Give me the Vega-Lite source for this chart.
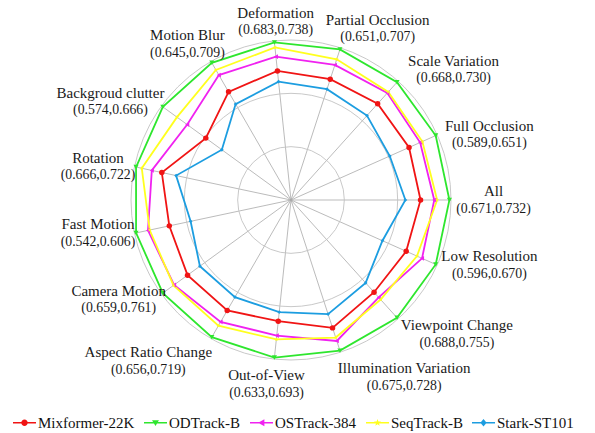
{
  "$schema": "https://vega.github.io/schema/vega-lite/v6.json",
  "width": 595,
  "height": 433,
  "autosize": {"type": "none"},
  "padding": 0,
  "background": "white",
  "config": {"view": {"stroke": null}},
  "datasets": {
    "axes": [
      {"attr": "All", "idx": 0, "range": "(0.671,0.732)", "best": 0.732},
      {"attr": "Full Occlusion", "idx": 1, "range": "(0.589,0.651)", "best": 0.651},
      {"attr": "Scale Variation", "idx": 2, "range": "(0.668,0.730)", "best": 0.730},
      {"attr": "Partial Occlusion", "idx": 3, "range": "(0.651,0.707)", "best": 0.707},
      {"attr": "Deformation", "idx": 4, "range": "(0.683,0.738)", "best": 0.738},
      {"attr": "Motion Blur", "idx": 5, "range": "(0.645,0.709)", "best": 0.709},
      {"attr": "Backgroud clutter", "idx": 6, "range": "(0.574,0.666)", "best": 0.666},
      {"attr": "Rotation", "idx": 7, "range": "(0.666,0.722)", "best": 0.722},
      {"attr": "Fast Motion", "idx": 8, "range": "(0.542,0.606)", "best": 0.606},
      {"attr": "Camera Motion", "idx": 9, "range": "(0.659,0.761)", "best": 0.761},
      {"attr": "Aspect Ratio Change", "idx": 10, "range": "(0.656,0.719)", "best": 0.719},
      {"attr": "Out-of-View", "idx": 11, "range": "(0.633,0.693)", "best": 0.693},
      {"attr": "Illumination Variation", "idx": 12, "range": "(0.675,0.728)", "best": 0.728},
      {"attr": "Viewpoint Change", "idx": 13, "range": "(0.688,0.755)", "best": 0.755},
      {"attr": "Low Resolution", "idx": 14, "range": "(0.596,0.670)", "best": 0.670}
    ],
    "scores": [
      {"attr": "All", "Mixformer-22K": 0.692, "ODTrack-B": 0.732, "OSTrack-384": 0.711, "SeqTrack-B": 0.715, "Stark-ST101": 0.671},
      {"attr": "Full Occlusion", "Mixformer-22K": 0.615, "ODTrack-B": 0.651, "OSTrack-384": 0.630, "SeqTrack-B": 0.633, "Stark-ST101": 0.589},
      {"attr": "Scale Variation", "Mixformer-22K": 0.690, "ODTrack-B": 0.730, "OSTrack-384": 0.710, "SeqTrack-B": 0.712, "Stark-ST101": 0.668},
      {"attr": "Partial Occlusion", "Mixformer-22K": 0.665, "ODTrack-B": 0.707, "OSTrack-384": 0.685, "SeqTrack-B": 0.693, "Stark-ST101": 0.651},
      {"attr": "Deformation", "Mixformer-22K": 0.698, "ODTrack-B": 0.738, "OSTrack-384": 0.718, "SeqTrack-B": 0.731, "Stark-ST101": 0.683},
      {"attr": "Motion Blur", "Mixformer-22K": 0.664, "ODTrack-B": 0.709, "OSTrack-384": 0.690, "SeqTrack-B": 0.698, "Stark-ST101": 0.645},
      {"attr": "Backgroud clutter", "Mixformer-22K": 0.599, "ODTrack-B": 0.666, "OSTrack-384": 0.628, "SeqTrack-B": 0.644, "Stark-ST101": 0.574},
      {"attr": "Rotation", "Mixformer-22K": 0.686, "ODTrack-B": 0.722, "OSTrack-384": 0.700, "SeqTrack-B": 0.714, "Stark-ST101": 0.666},
      {"attr": "Fast Motion", "Mixformer-22K": 0.567, "ODTrack-B": 0.606, "OSTrack-384": 0.592, "SeqTrack-B": 0.590, "Stark-ST101": 0.542},
      {"attr": "Camera Motion", "Mixformer-22K": 0.717, "ODTrack-B": 0.761, "OSTrack-384": 0.741, "SeqTrack-B": 0.742, "Stark-ST101": 0.695},
      {"attr": "Aspect Ratio Change", "Mixformer-22K": 0.677, "ODTrack-B": 0.719, "OSTrack-384": 0.695, "SeqTrack-B": 0.701, "Stark-ST101": 0.656},
      {"attr": "Out-of-View", "Mixformer-22K": 0.645, "ODTrack-B": 0.693, "OSTrack-384": 0.664, "SeqTrack-B": 0.669, "Stark-ST101": 0.633},
      {"attr": "Illumination Variation", "Mixformer-22K": 0.695, "ODTrack-B": 0.728, "OSTrack-384": 0.714, "SeqTrack-B": 0.709, "Stark-ST101": 0.675},
      {"attr": "Viewpoint Change", "Mixformer-22K": 0.706, "ODTrack-B": 0.755, "OSTrack-384": 0.716, "SeqTrack-B": 0.720, "Stark-ST101": 0.688},
      {"attr": "Low Resolution", "Mixformer-22K": 0.629, "ODTrack-B": 0.670, "OSTrack-384": 0.651, "SeqTrack-B": 0.644, "Stark-ST101": 0.596}
    ],
    "rings": [{"ring": 0.8}, {"ring": 0.9}, {"ring": 1.0}]
  },
  "layer": [
    {
      "data": {"name": "axes"},
      "transform": [
        {"calculate": "datum.idx*2*PI/15", "as": "ang"},
        {"calculate": "cos(datum.ang)", "as": "sx"},
        {"calculate": "sin(datum.ang)", "as": "sy"}
      ],
      "mark": {"type": "rule", "color": "#aaaaaa", "strokeWidth": 0.8},
      "encoding": {
        "x": {"field": "sx", "type": "quantitative", "scale": {"domain": [-1.81875, 1.9], "nice": false, "zero": false}, "axis": null},
        "y": {"field": "sy", "type": "quantitative", "scale": {"domain": [-1.45625, 1.25], "nice": false, "zero": false}, "axis": null},
        "x2": {"datum": 0},
        "y2": {"datum": 0}
      }
    },
    {
      "data": {"name": "rings"},
      "transform": [{"calculate": "(datum.ring-0.7)/0.3", "as": "rr"}],
      "mark": {"type": "point", "shape": "circle", "filled": false, "color": "#c2c2c2", "strokeWidth": 0.9, "opacity": 1},
      "encoding": {
        "x": {"datum": 0, "type": "quantitative", "scale": {"domain": [-1.81875, 1.9], "nice": false, "zero": false}, "axis": null},
        "y": {"datum": 0, "type": "quantitative", "scale": {"domain": [-1.45625, 1.25], "nice": false, "zero": false}, "axis": null},
        "size": {"field": "rr", "type": "quantitative", "scale": {"type": "pow", "exponent": 2, "domain": [0, 1], "range": [0, 102400]}, "legend": null}
      }
    },
    {
      "data": {"name": "scores"},
      "transform": [
        {"fold": ["Mixformer-22K", "ODTrack-B", "OSTrack-384", "SeqTrack-B", "Stark-ST101"], "as": ["tracker", "score"]},
        {"lookup": "attr", "from": {"data": {"name": "axes"}, "key": "attr", "fields": ["idx", "best"]}},
        {"calculate": "datum.idx*2*PI/15", "as": "ang"},
        {"calculate": "(datum.score/datum.best - 0.7)/0.3*0.99", "as": "rad"},
        {"calculate": "datum.rad*cos(datum.ang)", "as": "px"},
        {"calculate": "datum.rad*sin(datum.ang)", "as": "py"}
      ],
      "layer": [
        {
          "mark": {"type": "line", "interpolate": "linear-closed", "strokeWidth": 1.8},
          "encoding": {
            "x": {"field": "px", "type": "quantitative", "scale": {"domain": [-1.81875, 1.9], "nice": false, "zero": false}, "axis": null},
            "y": {"field": "py", "type": "quantitative", "scale": {"domain": [-1.45625, 1.25], "nice": false, "zero": false}, "axis": null},
            "order": {"field": "idx", "type": "quantitative"},
            "color": {
              "field": "tracker",
              "type": "nominal",
              "scale": {
                "domain": ["Mixformer-22K", "ODTrack-B", "OSTrack-384", "SeqTrack-B", "Stark-ST101"],
                "range": ["#f01414", "#2ee62e", "#f022f0", "#ffff1e", "#1c9de0"]
              },
              "legend": {
                "orient": "none",
                "legendX": 13,
                "legendY": 411,
                "direction": "horizontal",
                "title": null,
                "symbolSize": 529,
                "labelFont": "Liberation Serif",
                "labelFontSize": 15,
                "labelColor": "#111111",
                "labelOffset": 2,
                "labelLimit": 200,
                "columnPadding": 9,
                "padding": 0,
                "encode": {
                  "symbols": {
                    "update": {
                      "shape": {"signal": "datum.value === 'Mixformer-22K' ? 'M-1,-0.07H1V0.07H-1Z M-0.28,0A0.28,0.28 0 1,1 0.28,0A0.28,0.28 0 1,1 -0.28,0Z' : datum.value === 'ODTrack-B' ? 'M-1,-0.07H1V0.07H-1Z M-0.3,-0.22L0.3,-0.22L0,0.28Z' : datum.value === 'OSTrack-384' ? 'M-1,-0.07H1V0.07H-1Z M0.25,-0.3L0.25,0.3L-0.3,0Z' : datum.value === 'SeqTrack-B' ? 'M-1,-0.07H1V0.07H-1Z M0,-0.32L0.079,-0.109L0.304,-0.099L0.128,0.042L0.188,0.259L0,0.134L-0.188,0.259L-0.128,0.042L-0.304,-0.099L-0.079,-0.109Z' : 'M-1,-0.07H1V0.07H-1Z M0,-0.32L0.27,0L0,0.32L-0.27,0Z'"},
                      "fill": {"scale": "color", "field": "value"},
                      "stroke": {"value": "transparent"},
                      "strokeWidth": {"value": 0},
                      "opacity": {"value": 1},
                      "size": {"value": 529}
                    }
                  }
                }
              }
            }
          }
        },
        {
          "mark": {"type": "point", "filled": true, "opacity": 1},
          "encoding": {
            "x": {"field": "px", "type": "quantitative", "scale": {"domain": [-1.81875, 1.9], "nice": false, "zero": false}, "axis": null},
            "y": {"field": "py", "type": "quantitative", "scale": {"domain": [-1.45625, 1.25], "nice": false, "zero": false}, "axis": null},
            "color": {"field": "tracker", "type": "nominal"},
            "shape": {
              "field": "tracker",
              "type": "nominal",
              "scale": {
                "domain": ["Mixformer-22K", "ODTrack-B", "OSTrack-384", "SeqTrack-B", "Stark-ST101"],
                "range": ["circle", "triangle-down", "triangle-left", "M0,-1L0.247,-0.34L0.951,-0.309L0.399,0.13L0.588,0.809L0,0.42L-0.588,0.809L-0.399,0.13L-0.951,-0.309L-0.247,-0.34Z", "diamond"]
              },
              "legend": null
            },
            "size": {
              "field": "tracker",
              "type": "ordinal",
              "scale": {
                "domain": ["Mixformer-22K", "ODTrack-B", "OSTrack-384", "SeqTrack-B", "Stark-ST101"],
                "range": [30, 14, 24, 26, 42]
              },
              "legend": null
            }
          }
        }
      ]
    },
    {
      "data": {"name": "axes"},
      "transform": [
        {"calculate": "datum.idx*2*PI/15", "as": "ang"},
        {"calculate": "cos(datum.ang)", "as": "c"},
        {"calculate": "sin(datum.ang)", "as": "s"},
        {"calculate": "max(length(datum.attr)*3.3, 36.5) + 3", "as": "hw"},
        {"calculate": "datum.hw*clamp((datum.s > 0 ? 1.6 : 2.6)*datum.c, -1, 1) + ((datum.s > 0.5 && datum.c < 0.5) ? 8 : 3)", "as": "ox"},
        {"calculate": "datum.c + datum.ox/160", "as": "lx"},
        {"calculate": "datum.s + (datum.s > 0 ? 19 : -25)*clamp((abs(datum.s) - 0.5)*2.5, 0, 1)/160", "as": "ly"}
      ],
      "layer": [
        {
          "mark": {"type": "text", "font": "Liberation Serif", "fontSize": 15, "color": "#1a1a1a", "align": "center", "baseline": "middle", "dy": -9},
          "encoding": {
            "x": {"field": "lx", "type": "quantitative", "scale": {"domain": [-1.81875, 1.9], "nice": false, "zero": false}, "axis": null},
            "y": {"field": "ly", "type": "quantitative", "scale": {"domain": [-1.45625, 1.25], "nice": false, "zero": false}, "axis": null},
            "text": {"field": "attr", "type": "nominal"}
          }
        },
        {
          "mark": {"type": "text", "font": "Liberation Serif", "fontSize": 13.8, "color": "#1a1a1a", "align": "center", "baseline": "middle", "dy": 8.5},
          "encoding": {
            "x": {"field": "lx", "type": "quantitative", "scale": {"domain": [-1.81875, 1.9], "nice": false, "zero": false}, "axis": null},
            "y": {"field": "ly", "type": "quantitative", "scale": {"domain": [-1.45625, 1.25], "nice": false, "zero": false}, "axis": null},
            "text": {"field": "range", "type": "nominal"}
          }
        }
      ]
    }
  ],
  "resolve": {"scale": {"size": "independent", "shape": "independent"}}
}
